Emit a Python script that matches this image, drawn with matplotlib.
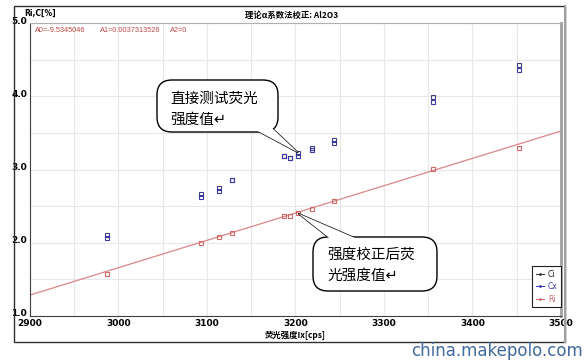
# -*- coding: utf-8 -*-
"""
    Calibration chart: measured (Ci, Cx) and corrected (Ri) intensity vs Ix
"""
import numpy as np
import matplotlib
matplotlib.use('Agg')
import matplotlib.pyplot as plt
import matplotlib.transforms as mtransforms
from matplotlib.patches import Rectangle, FancyBboxPatch, Polygon
from matplotlib.lines import Line2D

CJK = ['Noto Sans CJK SC', 'DejaVu Sans']

# Data
ix = [2987.5, 3093.6, 3113.2, 3128.3, 3186.8, 3194.3, 3203.0, 3218.9, 3243.4, 3355.5, 3452.0]
ci = [2.11, 2.67, 2.75, 2.86, 3.19, 3.16, 3.22, 3.30, 3.40, 3.99, 4.42]
cx = [2.07, 2.63, 2.71, 2.85, 3.19, 3.16, 3.18, 3.26, 3.36, 3.92, 4.36]
ri = [1.58, 2.00, 2.08, 2.13, 2.36, 2.37, 2.40, 2.46, 2.57, 3.01, 3.29]

# Calibration line coefficients (as printed on the chart)
A0 = -9.5345046
A1 = 0.0037313526
A2 = 0
line_x = np.array([2900, 3500])
line_y = A0 + A1 * line_x

W, H = 586, 360
fig = plt.figure(figsize=(W / 100, H / 100), dpi=100)
fig.patch.set_facecolor('white')
PIX = mtransforms.IdentityTransform()   # display pixels, origin bottom-left


def px(x, y):
    # pixel from top-left -> display coords
    return (x, H - y)


# outer frame
fig.patches.append(Rectangle(px(14, 342), 565 - 14, 342 - 6, transform=PIX, fill=False,
                             edgecolor='#303030', linewidth=1.0))
fig.add_artist(Line2D([565, 565], [H - 342, H - 6], transform=PIX,
                      color='#a0a0a0', linewidth=1.5))

ax = fig.add_axes([30 / W, 1 - 316 / H, (561 - 30) / W, (316 - 23) / H])
ax.set_xlim(2900, 3500)
ax.set_ylim(1.0, 5.0)
ax.set_xticks(np.arange(2900, 3501, 50), minor=True)
ax.set_yticks(np.arange(1.0, 5.01, 0.5), minor=True)
ax.set_xticks(np.arange(2900, 3501, 100))
ax.set_yticks(np.arange(1.0, 5.01, 1.0))
ax.set_yticklabels(['%.1f' % v for v in np.arange(1.0, 5.01, 1.0)])
ax.grid(True, which='both', color='#e8e8e8', linewidth=0.8)
ax.set_axisbelow(True)
ax.tick_params(which='both', length=0, labelsize=6.5, pad=2)
shift_up = mtransforms.ScaledTranslation(0, 3 / 100, fig.dpi_scale_trans)
for lab in ax.get_xticklabels() + ax.get_yticklabels():
    lab.set_fontweight('bold')
for lab in ax.get_yticklabels():
    lab.set_transform(lab.get_transform() + shift_up)
ax.spines['left'].set_color('#404040')
ax.spines['bottom'].set_color('#404040')
ax.spines['top'].set_color('#b0b0b0')
ax.spines['right'].set_color('#a0a0a0')
ax.spines['right'].set_linewidth(2.0)

# series
ax.plot(line_x, line_y, color='#d88888', linewidth=0.9, zorder=2)
ax.plot(ix, ci, linestyle='none', marker='s', markersize=3.2, markerfacecolor='none',
        markeredgecolor='#404080', markeredgewidth=0.8, zorder=3)
ax.plot(ix, cx, linestyle='none', marker='s', markersize=3.2, markerfacecolor='none',
        markeredgecolor='#3838a8', markeredgewidth=0.8, zorder=3)
ax.plot(ix, ri, linestyle='none', marker='s', markersize=3.2, markerfacecolor='none',
        markeredgecolor='#d06868', markeredgewidth=0.8, zorder=3)

# coefficient text
coef_style = dict(color='#c04848', fontsize=5.3, va='center', family='Liberation Sans',
                  transform=PIX)
fig.text(*px(35, 30), 'A0=%.7f' % A0, **coef_style)
fig.text(*px(100, 30), 'A1=%.10f' % A1, **coef_style)
fig.text(*px(170, 30), 'A2=%d' % A2, **coef_style)

# header
fig.text(*px(24, 13), 'Ri,C[%]', fontsize=5.5, fontweight='bold', va='center', transform=PIX)
fig.text(*px(292, 15), '理论α系数法校正: Al2O3', fontsize=6, fontweight='bold',
         ha='center', va='center', family=CJK, transform=PIX)
ax.set_xlabel('荧光强度Ix[cps]', fontsize=6, fontweight='bold', family=CJK, labelpad=2)

# legend
handles = [Line2D([], [], color='#303030', marker='.', markersize=2, linewidth=0.7),
           Line2D([], [], color='#3838a8', marker='.', markersize=2, linewidth=0.7),
           Line2D([], [], color='#d06868', marker='.', markersize=2, linewidth=0.7)]
leg = ax.legend(handles, ['Ci', 'Cx', 'Ri'], loc='lower right', bbox_to_anchor=(1.0, 9 / 293),
                borderaxespad=0, fontsize=5.5, handlelength=1.1, handletextpad=0.5,
                borderpad=0.45, labelspacing=0.45, fancybox=False, framealpha=1,
                edgecolor='#202020')
leg.get_frame().set_linewidth(0.8)
for txt, c in zip(leg.get_texts(), ['#202020', '#3838a8', '#d06868']):
    txt.set_color(c)


# speech bubbles (box in pixels, tail tip on a data point)
def bubble(x0, y0, x1, y1, base, tip, text_lines, tx, ty):
    tx_tip = tuple(ax.transData.transform(tip))
    tail = [px(*base[0]), tx_tip, px(*base[1])]
    fig.patches.append(Polygon(tail, closed=True, transform=PIX, facecolor='white',
                               edgecolor='black', linewidth=1.0, zorder=5))
    fig.patches.append(FancyBboxPatch(px(x0, y1), x1 - x0, y1 - y0, transform=PIX,
                                      boxstyle='round,pad=0,rounding_size=15',
                                      facecolor='white', edgecolor='black',
                                      linewidth=1.0, zorder=6))
    # cover the seam between tail and box
    fig.patches.append(Polygon(tail, closed=True, transform=PIX, facecolor='white',
                               edgecolor='none', zorder=7))
    for k, s in enumerate(text_lines):
        fig.text(*px(tx, ty + k * 21), s, fontsize=10.5, family=CJK, va='center',
                 ha='left', zorder=8, transform=PIX)


bubble(157, 80, 278, 132, [(252, 128), (272, 128)], (3203, 3.23),
       ['直接测试荧光', '强度值↵'], 170, 99)
bubble(313, 237, 437, 291, [(333, 241), (362, 241)], (3203, 2.40),
       ['强度校正后荧', '光强度值↵'], 327, 255)

# watermark
fig.text(*px(583, 351), 'china.makepolo.com', fontsize=12, color='#41699c',
         ha='right', va='center', transform=PIX)

plt.savefig('out.png', dpi=100)
